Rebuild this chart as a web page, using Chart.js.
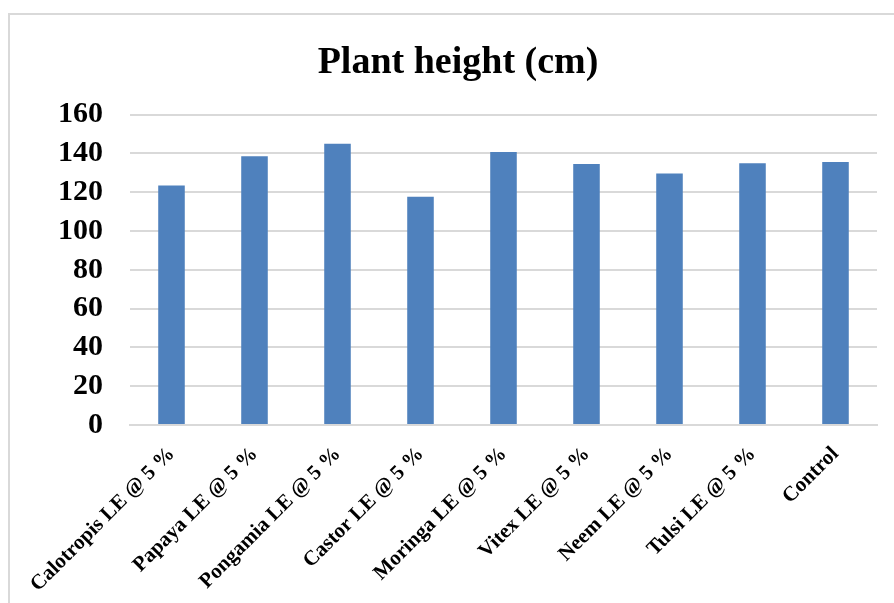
<!DOCTYPE html>
<html>
<head>
<meta charset="utf-8">
<script src="https://cdn.jsdelivr.net/npm/chart.js@4.4.1/dist/chart.umd.min.js"></script>
<style>
  html, body { margin: 0; padding: 0; background: #fff; overflow: hidden; }
  #wrap { position: relative; width: 894px; height: 603px; overflow: hidden; }
  #frame { position: absolute; left: 8px; top: 13px; width: 1000px; height: 1000px;
           border: 2px solid #d9d9d9; box-sizing: border-box; }
  #c { position: absolute; left: 0; top: 0; }
</style>
</head>
<body>
<div id="wrap">
  <div id="frame"></div>
  <canvas id="c" width="894" height="603"></canvas>
</div>
<script>
// Treatments and measured plant height (cm)
const categories = [
  "Calotropis LE @ 5 %", "Papaya LE @ 5 %", "Pongamia LE @ 5 %",
  "Castor LE @ 5 %", "Moringa LE @ 5 %", "Vitex LE @ 5 %",
  "Neem LE @ 5 %", "Tulsi LE @ 5 %", "Control"
];
const plantHeight = [123.4, 138.5, 145.0, 117.7, 140.7, 134.5, 129.7, 134.9, 135.6];
const yTicks = [0, 20, 40, 60, 80, 100, 120, 140, 160];

const serif = "'Liberation Serif', 'Times New Roman', serif";

new Chart(document.getElementById('c'), {
  type: 'bar',
  data: {
    labels: categories,
    datasets: [{
      label: 'Plant height (cm)',
      data: plantHeight,
      backgroundColor: '#4f81bd',
      borderWidth: 0,
      categoryPercentage: 1,
      barPercentage: 0.32
    }]
  },
  options: {
    responsive: false,
    animation: false,
    layout: { padding: { top: 40, right: 17, bottom: 0, left: 39 } },
    plugins: {
      legend: { display: false },
      tooltip: { enabled: false },
      title: {
        display: true,
        text: 'Plant height (cm)',
        color: '#000',
        font: { family: serif, size: 38, weight: 'bold' },
        padding: { top: 0, bottom: 29 }
      }
    },
    scales: {
      x: {
        grid: { display: false, drawTicks: false },
        border: { display: true, color: '#d9d9d9', width: 2 },
        ticks: {
          color: '#000',
          font: { family: serif, size: 21, weight: 'bold' },
          maxRotation: 45,
          minRotation: 45,
          padding: 17,
          autoSkip: false
        },
        afterFit: s => { s.height = 178; }
      },
      y: {
        min: 0,
        max: 160,
        afterBuildTicks: s => { s.ticks = yTicks.map(v => ({ value: v })); },
        grid: { color: '#d9d9d9', lineWidth: 2, drawTicks: false },
        border: { display: false },
        ticks: {
          color: '#000',
          font: { family: serif, size: 30, weight: 'bold' },
          padding: 27,
          autoSkip: false
        },
        afterFit: s => { s.width = 91; }
      }
    }
  }
});
</script>
</body>
</html>
